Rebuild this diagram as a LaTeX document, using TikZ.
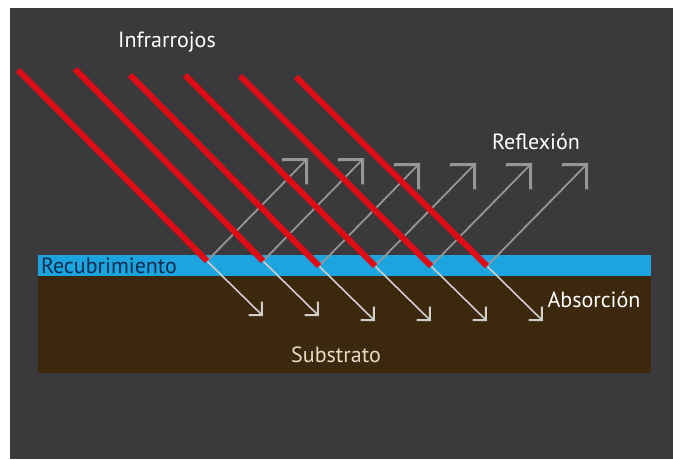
\documentclass[tikz,border=0pt]{standalone}
\usepackage{fontspec}
\setmainfont{PT Sans}
\usetikzlibrary{
  arrows.meta,
  calc
}
\definecolor{irBack}{RGB}{58,57,59}
\definecolor{irCoat}{RGB}{27,164,222}
\definecolor{irSubstrate}{RGB}{60,41,13}
\definecolor{irRed}{RGB}{222,12,22}
\definecolor{irGrey}{RGB}{150,150,152}
\definecolor{irLight}{RGB}{208,206,203}
\definecolor{irNavy}{RGB}{14,45,80}
\definecolor{irBeige}{RGB}{228,218,200}
\tikzset{
  irray/.style={
    draw=irRed,
    line width=6pt
  },
  irreflect/.style={
    -{Straight Barb[length=17.5pt,width=35pt,line width=3pt]},
    draw=irGrey,
    line width=1.8pt
  },
  irabsorb/.style={
    -{Straight Barb[length=9.5pt,width=19pt,line width=2pt]},
    draw=irLight,
    line width=1.6pt
  },
  irlabel/.style={
    font=\fontsize{22}{26}\selectfont,
    text=white,
    anchor=base,
    inner sep=0pt
  }
}

\begin{document}
\begin{tikzpicture}[x=1pt,y=-1pt]
  \useasboundingbox (0,0) rectangle (673,459);
  \fill[white] (0,0) rectangle (673,459);
  \fill[irBack] (10,8) rectangle (673,459);

  % coating on top of the substrate
  \fill[irCoat] (38,255) rectangle (651,276);
  \fill[irSubstrate] (38,276) rectangle (651,373);

  % incoming rays: start and point of impact
  \coordinate (src1) at (18,70);
  \coordinate (src2) at (75,69);
  \coordinate (src3) at (130,75);
  \coordinate (src4) at (185,75);
  \coordinate (src5) at (240,76);
  \coordinate (src6) at (296,77);

  \coordinate (hit1) at (207,261);
  \coordinate (hit2) at (263,261);
  \coordinate (hit3) at (319,266);
  \coordinate (hit4) at (375,266);
  \coordinate (hit5) at (431,266);
  \coordinate (hit6) at (487,266);

  \coordinate (refl1) at ($(hit1)+(101,-103)$);
  \coordinate (refl2) at ($(hit2)+(101,-103)$);
  \coordinate (refl3) at ($(hit3)+(101,-103)$);
  \coordinate (refl4) at ($(hit4)+(101,-103)$);
  \coordinate (refl5) at ($(hit5)+(101,-103)$);
  \coordinate (refl6) at ($(hit6)+(101,-103)$);

  \coordinate (abs1) at ($(hit1)+(56,55)$);
  \coordinate (abs2) at ($(hit2)+(56,55)$);
  \coordinate (abs3) at ($(hit3)+(56,55)$);
  \coordinate (abs4) at ($(hit4)+(56,55)$);
  \coordinate (abs5) at ($(hit5)+(56,55)$);
  \coordinate (abs6) at ($(hit6)+(56,55)$);

  \draw[irabsorb] (hit1) -- (abs1);
  \draw[irabsorb] (hit2) -- (abs2);
  \draw[irabsorb] (hit3) -- (abs3);
  \draw[irabsorb] (hit4) -- (abs4);
  \draw[irabsorb] (hit5) -- (abs5);
  \draw[irabsorb] (hit6) -- (abs6);

  \draw[irreflect] (hit1) -- (refl1);
  \draw[irreflect] (hit2) -- (refl2);
  \draw[irreflect] (hit3) -- (refl3);
  \draw[irreflect] (hit4) -- (refl4);
  \draw[irreflect] (hit5) -- (refl5);
  \draw[irreflect] (hit6) -- (refl6);

  % red rays over the reflected ones
  \draw[irray] (src1) -- (hit1);
  \draw[irray] (src2) -- (hit2);
  \draw[irray] (src3) -- (hit3);
  \draw[irray] (src4) -- (hit4);
  \draw[irray] (src5) -- (hit5);
  \draw[irray] (src6) -- (hit6);

  \node[irlabel] (infra) at (167,47) {Infrarrojos};
  \node[irlabel] (reflex) at (536,149) {Reflexión};
  \node[irlabel] (absorb) at (594,307) {Absorción};
  \node[irlabel, text=irNavy] (coat) at (109,273) {Recubrimiento};
  \node[irlabel, text=irBeige] (subst) at (336,362) {Substrato};
\end{tikzpicture}
\end{document}
